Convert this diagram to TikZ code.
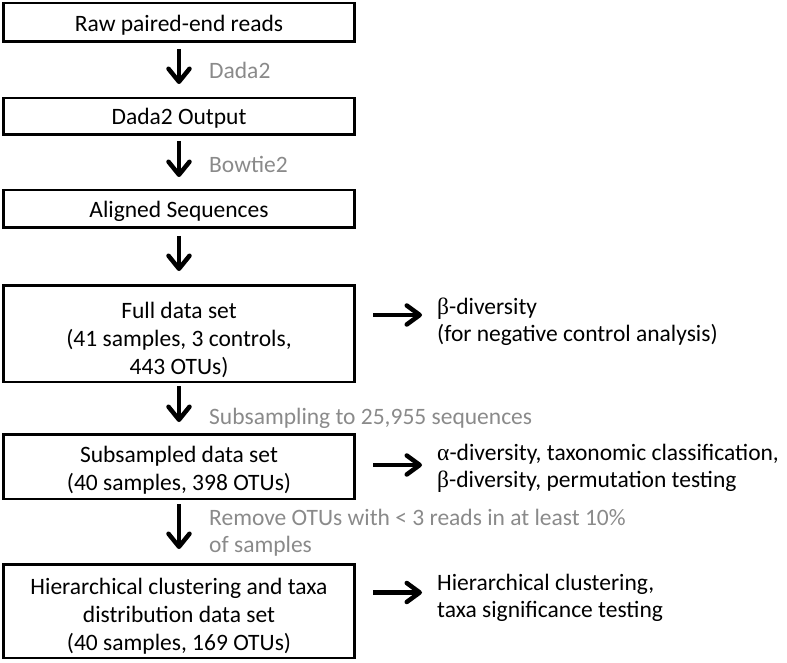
\documentclass[tikz,border=0pt]{standalone}
\usepackage{fontspec}
\setmainfont{Carlito}
\newfontfamily\grk{Liberation Serif}
\usetikzlibrary{arrows.meta}
\definecolor{labgray}{RGB}{138,138,138}
\begin{document}
\begin{tikzpicture}[x=1pt,y=-1pt,
  box/.style={draw, line width=2.5pt, minimum width=351pt, inner sep=0pt},
  boxtext/.style={inner sep=0pt, align=center, font=\fontsize{23.5}{28}\selectfont},
  lab/.style={anchor=west, inner sep=0pt, text=labgray, align=left,
    font=\fontsize{23.5}{27}\selectfont},
  side/.style={anchor=west, inner sep=0pt, align=left,
    font=\fontsize{23.5}{27}\selectfont},
  darrow/.style={line width=4.5pt, -{Straight Barb[length=13pt,width=21pt,round]}},
  rarrow/.style={line width=4.5pt, -{Straight Barb[length=13pt,width=19pt,round]}},
]
\useasboundingbox (0,0) rectangle (787,663);

\node[box, minimum height=38.5pt] (b1) at (179,22.5) {};
\node[box, minimum height=36.5pt] (b2) at (179,116.5) {};
\node[box, minimum height=37.5pt] (b3) at (179,209) {};
\node[box, minimum height=96.5pt] (b4) at (179,333.5) {};
\node[box, minimum height=64.5pt] (b5) at (179,466.5) {};
\node[box, minimum height=93.5pt] (b6) at (179,611) {};

\node[boxtext] (t1) at ([yshift=-2.5pt]b1.center) {Raw paired-end reads};
\node[boxtext] (t2) at ([yshift=-2pt]b2.center) {Dada2 Output};
\node[boxtext] (t3) at ([yshift=-2pt]b3.center) {Aligned Sequences};
\node[boxtext] (t4) at ([yshift=-6pt]b4.center) {Full data set\\(41 samples, 3 controls,\\443 OTUs)};
\node[boxtext] (t5) at ([yshift=-4pt]b5.center) {Subsampled data set\\(40 samples, 398 OTUs)};
\node[boxtext] (t6) at ([yshift=-5pt]b6.center) {Hierarchical clustering and taxa\\distribution data set\\(40 samples, 169 OTUs)};

\draw[darrow, shorten <=6pt, shorten >=13pt] (b1) -- (b2);
\draw[darrow, shorten <=5pt, shorten >=12pt] (b2) -- (b3);
\draw[darrow, shorten <=7pt, shorten >=13pt] (b3) -- (b4);
\draw[darrow, shorten <=3pt, shorten >=11pt] (b4) -- (b5);
\draw[darrow, shorten <=4pt, shorten >=14pt] (b5) -- (b6);

\node[lab] (l1) at (209,70) {Dada2};
\node[lab] (l2) at (209,164) {Bowtie2};
\node[lab] (l4) at (209,418) {Subsampling to 25,955 sequences};
\node[lab] (l5) at (209,533) {Remove OTUs with < 3 reads in at least 10\%\\of samples};

\node[side] (r4) at (437,321.5) {{\grk β}-diversity\\(for negative control analysis)};
\node[side] (r5) at (437,468) {{\grk α}-diversity, taxonomic classification,\\{\grk β}-diversity, permutation testing};
\node[side] (r6) at (437,597.5) {Hierarchical clustering,\\taxa significance testing};

\draw[rarrow, shorten <=17.5pt, shorten >=15pt] ([yshift=6.5pt]b4.east |- r4.west) -- ([yshift=6.5pt]r4.west);
\draw[rarrow, shorten <=17.5pt, shorten >=15pt] ([yshift=3pt]b5.east |- r5.west) -- ([yshift=3pt]r5.west);
\draw[rarrow, shorten <=17.5pt, shorten >=15pt] ([yshift=5pt]b6.east |- r6.west) -- ([yshift=5pt]r6.west);
\end{tikzpicture}
\end{document}
